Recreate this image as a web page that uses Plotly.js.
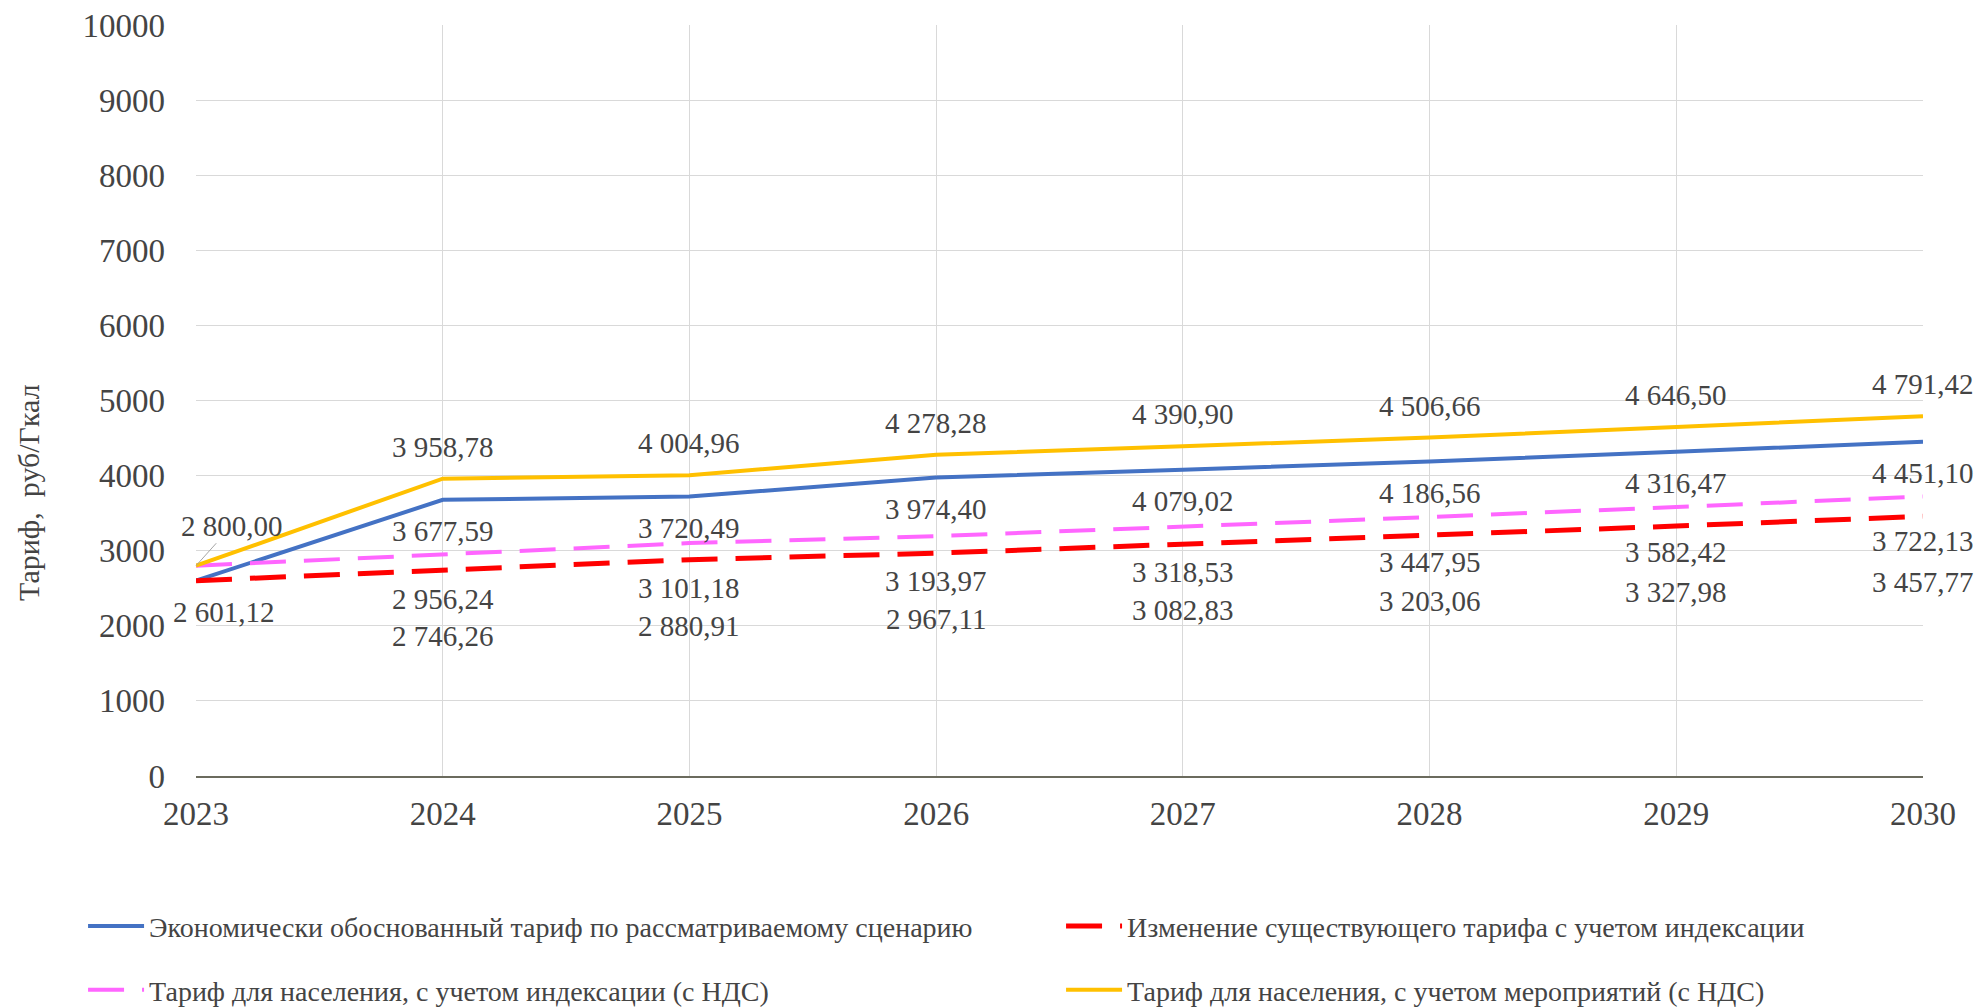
<!DOCTYPE html>
<html>
<head>
<meta charset="utf-8">
<script src="https://cdn.plot.ly/plotly-3.0.1.min.js"></script>
</head>
<body style="margin:0;background:#fff">
<div id="chart" style="width:1984px;height:1007px"></div>
<script>
// years and tariffs, rub/Gcal
const years=[2023,2024,2025,2026,2027,2028,2029,2030]
const econTariff=[2601.12,3677.59,3720.49,3974.40,4079.02,4186.56,4316.47,4451.10]
const indexedTariff=[2601.12,2746.26,2880.91,2967.11,3082.83,3203.06,3327.98,3457.77]
const popIndexed=[2800.00,2956.24,3101.18,3193.97,3318.53,3447.95,3582.42,3722.13]
const popMeasures=[2800.00,3958.78,4004.96,4278.28,4390.90,4506.66,4646.50,4791.42]

const names=[
    'Экономически обоснованный тариф по рассматриваемому сценарию',
    'Изменение существующего тарифа с учетом индексации',
    'Тариф для населения, с учетом индексации (с НДС)',
    'Тариф для населения, с учетом мероприятий (с НДС)'
]

let fmt=v=>{
    let s=v.toFixed(2).split('.')
    return s[0].replace(/\B(?=(\d{3})+(?!\d))/g,' ')+','+s[1]
}

// one legend per entry so the 2x2 grid sits where the reference has it
let series=[
    {y:econTariff,color:'#4472C4',dash:'solid',width:4,legend:'legend',shift:-31,first:true},
    {y:indexedTariff,color:'#FF0000',dash:'36px,18px',width:5,legend:'legend2',shift:-66,first:false},
    {y:popIndexed,color:'#FF66FF',dash:'36px,18px',width:4,legend:'legend3',shift:-45,first:false},
    {y:popMeasures,color:'#FFC000',dash:'solid',width:4,legend:'legend4',shift:32,first:true}
]

let traces=series.map((s,i)=>({
    type:'scatter',
    mode:'lines',
    x:years,
    y:s.y,
    name:names[i],
    legend:s.legend,
    line:{color:s.color,width:s.width,dash:s.dash},
    hoverinfo:'skip'
}))

// data labels
let annotations=[]
series.forEach((s,i)=>{
    s.y.forEach((v,j)=>{
        if(j==0 && !s.first){return}
        let a={
            x:years[j],y:v,xref:'x',yref:'y',
            text:fmt(v),showarrow:false,
            yshift:s.shift,
            font:{family:'Liberation Serif',size:29}
        }
        if(j==0){
            a.xshift=i==0?28:0
            if(i==3){
                // leader line for the first yellow label
                a.showarrow=true
                a.ax=36;a.ay=-40
                a.arrowhead=0;a.arrowwidth=1;a.arrowcolor='#a6a6a6'
                a.yshift=0
            }
        }
        annotations.push(a)
    })
})
annotations.push({
    xref:'paper',yref:'paper',x:-0.0973,y:0.378,
    xanchor:'center',yanchor:'middle',
    text:'Тариф,  руб/Гкал',textangle:-90,showarrow:false,
    font:{family:'Liberation Serif',size:30}
})

let legendStyle=(x,y)=>({
    orientation:'h',
    x:x,xanchor:'left',
    y:y,yanchor:'middle',
    itemwidth:56,
    bgcolor:'rgba(0,0,0,0)',
    font:{family:'Liberation Serif',size:28}
})

let layout={
    margin:{l:196,r:61,t:25,b:231,autoexpand:false},
    showlegend:true,
    legend:legendStyle(-0.0654,-0.2),
    legend2:legendStyle(0.5009,-0.2),
    legend3:legendStyle(-0.0654,-0.285),
    legend4:legendStyle(0.5009,-0.285),
    xaxis:{
        range:[2023,2030],
        tickmode:'array',tickvals:years,ticktext:years.map(String),
        showgrid:true,gridcolor:'#d9d9d9',gridwidth:1,
        zeroline:false,
        showline:true,linecolor:'#6b6b5e',linewidth:2,
        ticks:'',ticklabelstandoff:7,
        tickfont:{family:'Liberation Serif',size:33}
    },
    yaxis:{
        range:[0,10000],dtick:1000,tickformat:'d',
        showgrid:true,gridcolor:'#d9d9d9',gridwidth:1,
        zeroline:false,showline:false,
        ticks:'',ticklabelstandoff:30,
        tickfont:{family:'Liberation Serif',size:33}
    },
    annotations:annotations
}

Plotly.newPlot('chart',traces,layout,{staticPlot:true})
</script>
</body>
</html>
